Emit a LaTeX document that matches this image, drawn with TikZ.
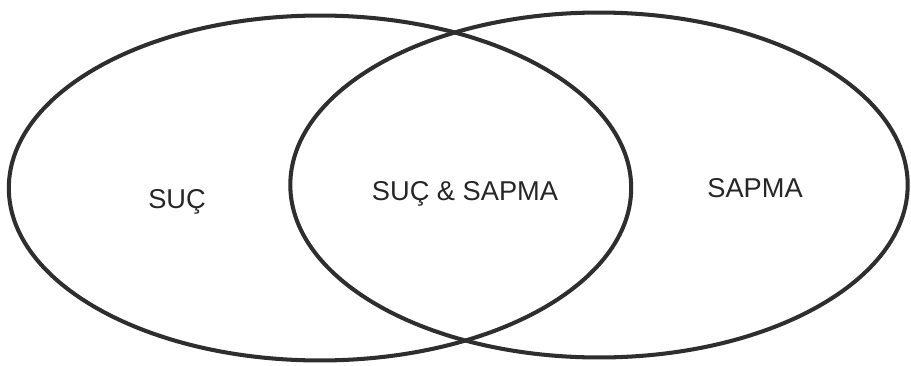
\documentclass[tikz,border=0pt]{standalone}
\usepackage{fontspec}
\setmainfont{Liberation Sans}
\usetikzlibrary{shapes.geometric,positioning}
\definecolor{setline}{HTML}{2E2E2E}

\begin{document}
\begin{tikzpicture}[
  x=0.02cm, y=-0.02cm,
  every node/.style={font=\fontsize{15.5}{18}\selectfont},
  setell/.style={ellipse, draw=setline, line width=2.3pt, inner sep=0pt,
                 outer sep=0pt, minimum width=12.45cm, minimum height=6.9cm},
  lbl/.style={anchor=base, text=black!85, inner sep=0pt}
]
\useasboundingbox (0,0) rectangle (911,365);

%% ─── sets ───────────────────────────────────────────────────
\node[setell] (suc)   at (320,188) {};
\node[setell, minimum width=12.35cm] (sapma) at (599,185) {};

%% ─── labels ─────────────────────────────────────────────────
\node[lbl] (suc_l)   at (177,208) {SUÇ};
\node[lbl] (both_l)  at (465,200) {SUÇ \& SAPMA};
\node[lbl] (sapma_l) at (755,197) {SAPMA};

\end{tikzpicture}
\end{document}
